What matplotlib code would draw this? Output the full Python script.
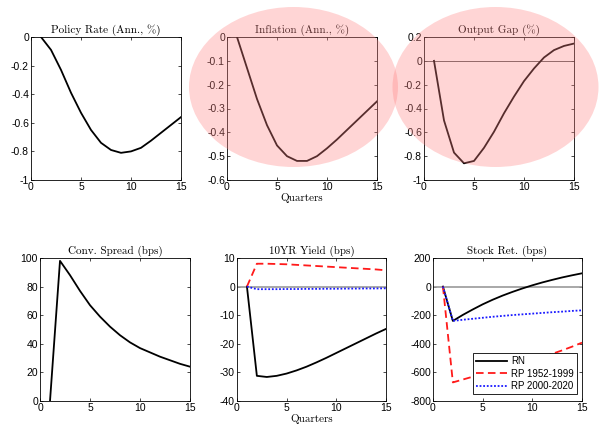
import matplotlib
matplotlib.use("Agg")
import matplotlib.pyplot as plt
from matplotlib.patches import Ellipse
from matplotlib.ticker import FuncFormatter, FixedLocator

plt.rcParams['axes.unicode_minus'] = False
plt.rcParams['font.family'] = ['Liberation Sans', 'DejaVu Sans']

# ---- impulse responses (quarters 1..15) ----
quarters = list(range(1, 16))

policy_rate = [0, -0.09, -0.23, -0.39, -0.53, -0.65, -0.74, -0.79, -0.81,
               -0.80, -0.775, -0.725, -0.67, -0.615, -0.56]
inflation = [0, -0.13, -0.26, -0.37, -0.455, -0.50, -0.52, -0.52, -0.50,
             -0.467, -0.43, -0.39, -0.35, -0.31, -0.27]
output_gap = [0, -0.50, -0.77, -0.86, -0.84, -0.73, -0.595, -0.44, -0.30,
              -0.17, -0.064, 0.028, 0.09, 0.125, 0.145]
conv_spread = [0, 98, 88, 77, 67, 59, 52, 46, 41, 37, 34, 31, 28.5, 26, 24]

yield_rn = [0, -31.2, -31.6, -31.2, -30.4, -29.3, -28.0, -26.5, -24.9,
            -23.2, -21.5, -19.8, -18.1, -16.4, -14.8]
yield_rp1 = [0, 8.0, 8.0, 7.9, 7.8, 7.6, 7.4, 7.2, 7.0, 6.8, 6.6, 6.4,
             6.2, 6.0, 5.7]
yield_rp2 = [0, -0.9, -0.9, -0.9, -0.85, -0.85, -0.8, -0.8, -0.75, -0.75,
             -0.7, -0.7, -0.65, -0.65, -0.6]

stock_rn = [0, -240, -198, -160, -124, -92, -63, -37, -13, 9, 29, 47,
            64, 79, 93]
stock_rp1 = [0, -670, -650, -630, -610, -590, -570, -551, -532, -512,
             -492, -470, -446, -420, -392]
stock_rp2 = [0, -240, -232, -225, -218, -211, -205, -199, -194, -189,
             -184, -179, -175, -170, -166]

series_labels = ['RN', 'RP 1952-1999', 'RP 2000-2020']

W, H = 599, 430
fig = plt.figure(figsize=(W / 100, H / 100), dpi=100)


def make_axes(x0, x1, y0, y1):
    return fig.add_axes([x0 / W, 1 - y1 / H, (x1 - x0) / W, (y1 - y0) / H])


serif = dict(family='cmr10', fontsize=8)
fmt = FuncFormatter(lambda v, p: '%g' % round(v, 6))


def style(ax, title, yticks, ylim, xlabel=None):
    ax.set_xlim(0, 15)
    ax.set_ylim(*ylim)
    ax.xaxis.set_major_locator(FixedLocator([0, 5, 10, 15]))
    ax.yaxis.set_major_locator(FixedLocator(yticks))
    ax.yaxis.set_major_formatter(fmt)
    ax.xaxis.set_major_formatter(fmt)
    ax.tick_params(direction='in', top=True, right=True, length=2.5,
                   width=0.5, labelsize=7.5, pad=1.5)
    for s in ax.spines.values():
        s.set_linewidth(0.6)
    ax.set_title(title, pad=3, **serif)
    if xlabel:
        ax.set_xlabel(xlabel, labelpad=1, **serif)


lw = 1.3

# top row
ax1 = make_axes(31, 181, 37, 180)
ax1.plot(quarters, policy_rate, color='black', lw=lw)
style(ax1, 'Policy Rate (Ann., %)', [0, -0.2, -0.4, -0.6, -0.8, -1], (-1, 0))

ax2 = make_axes(227, 377, 37, 180)
ax2.plot(quarters, inflation, color='black', lw=lw)
style(ax2, 'Inflation (Ann., %)', [0, -0.1, -0.2, -0.3, -0.4, -0.5, -0.6],
      (-0.6, 0), xlabel='Quarters')

ax3 = make_axes(424, 574, 37, 180)
ax3.axhline(0, color='0.25', lw=0.6)
ax3.plot(quarters, output_gap, color='black', lw=lw)
style(ax3, 'Output Gap (%)', [0.2, 0, -0.2, -0.4, -0.6, -0.8, -1], (-1, 0.2))

# bottom row
ax4 = make_axes(40, 190, 258, 401)
ax4.plot(quarters, conv_spread, color='black', lw=lw)
style(ax4, 'Conv. Spread (bps)', [0, 20, 40, 60, 80, 100], (0, 100))

ax5 = make_axes(237, 386, 258, 401)
ax5.axhline(0, color='0.6', lw=1.2)
ax5.plot(quarters, yield_rn, color='black', lw=lw)
ax5.plot(quarters, yield_rp1, color='#ff1a1a', lw=lw, dashes=(4.2, 2.4))
ax5.plot(quarters, yield_rp2, color='#1a1aff', lw=lw, dashes=(1, 1))
style(ax5, '10YR Yield (bps)', [10, 0, -10, -20, -30, -40], (-40, 10),
      xlabel='Quarters')

ax6 = make_axes(433, 582, 258, 401)
ax6.axhline(0, color='0.6', lw=1.2)
l1, = ax6.plot(quarters, stock_rn, color='black', lw=lw)
l2, = ax6.plot(quarters, stock_rp1, color='#ff1a1a', lw=lw, dashes=(4.2, 2.4))
l3, = ax6.plot(quarters, stock_rp2, color='#1a1aff', lw=lw, dashes=(1, 1))
style(ax6, 'Stock Ret. (bps)', [200, 0, -200, -400, -600, -800], (-800, 200))
leg = ax6.legend([l1, l2, l3], series_labels, loc='lower right',
                 fontsize=7, frameon=True, fancybox=False, framealpha=1,
                 edgecolor='black', borderpad=0.3, labelspacing=0.25,
                 handlelength=3.2, handletextpad=0.4, borderaxespad=0,
                 bbox_to_anchor=(0.966, 0.05))
leg.get_frame().set_linewidth(0.6)

# highlight ovals over the inflation and output-gap panels
for cx, w in [(293.5, 209), (495.5, 206)]:
    e = Ellipse((cx / W, 1 - 87 / H), w / W, 160 / H,
                transform=fig.transFigure, facecolor=(1, 0.52, 0.52),
                edgecolor='none', alpha=0.34, zorder=10)
    fig.add_artist(e)

fig.savefig('out.png', dpi=100)
